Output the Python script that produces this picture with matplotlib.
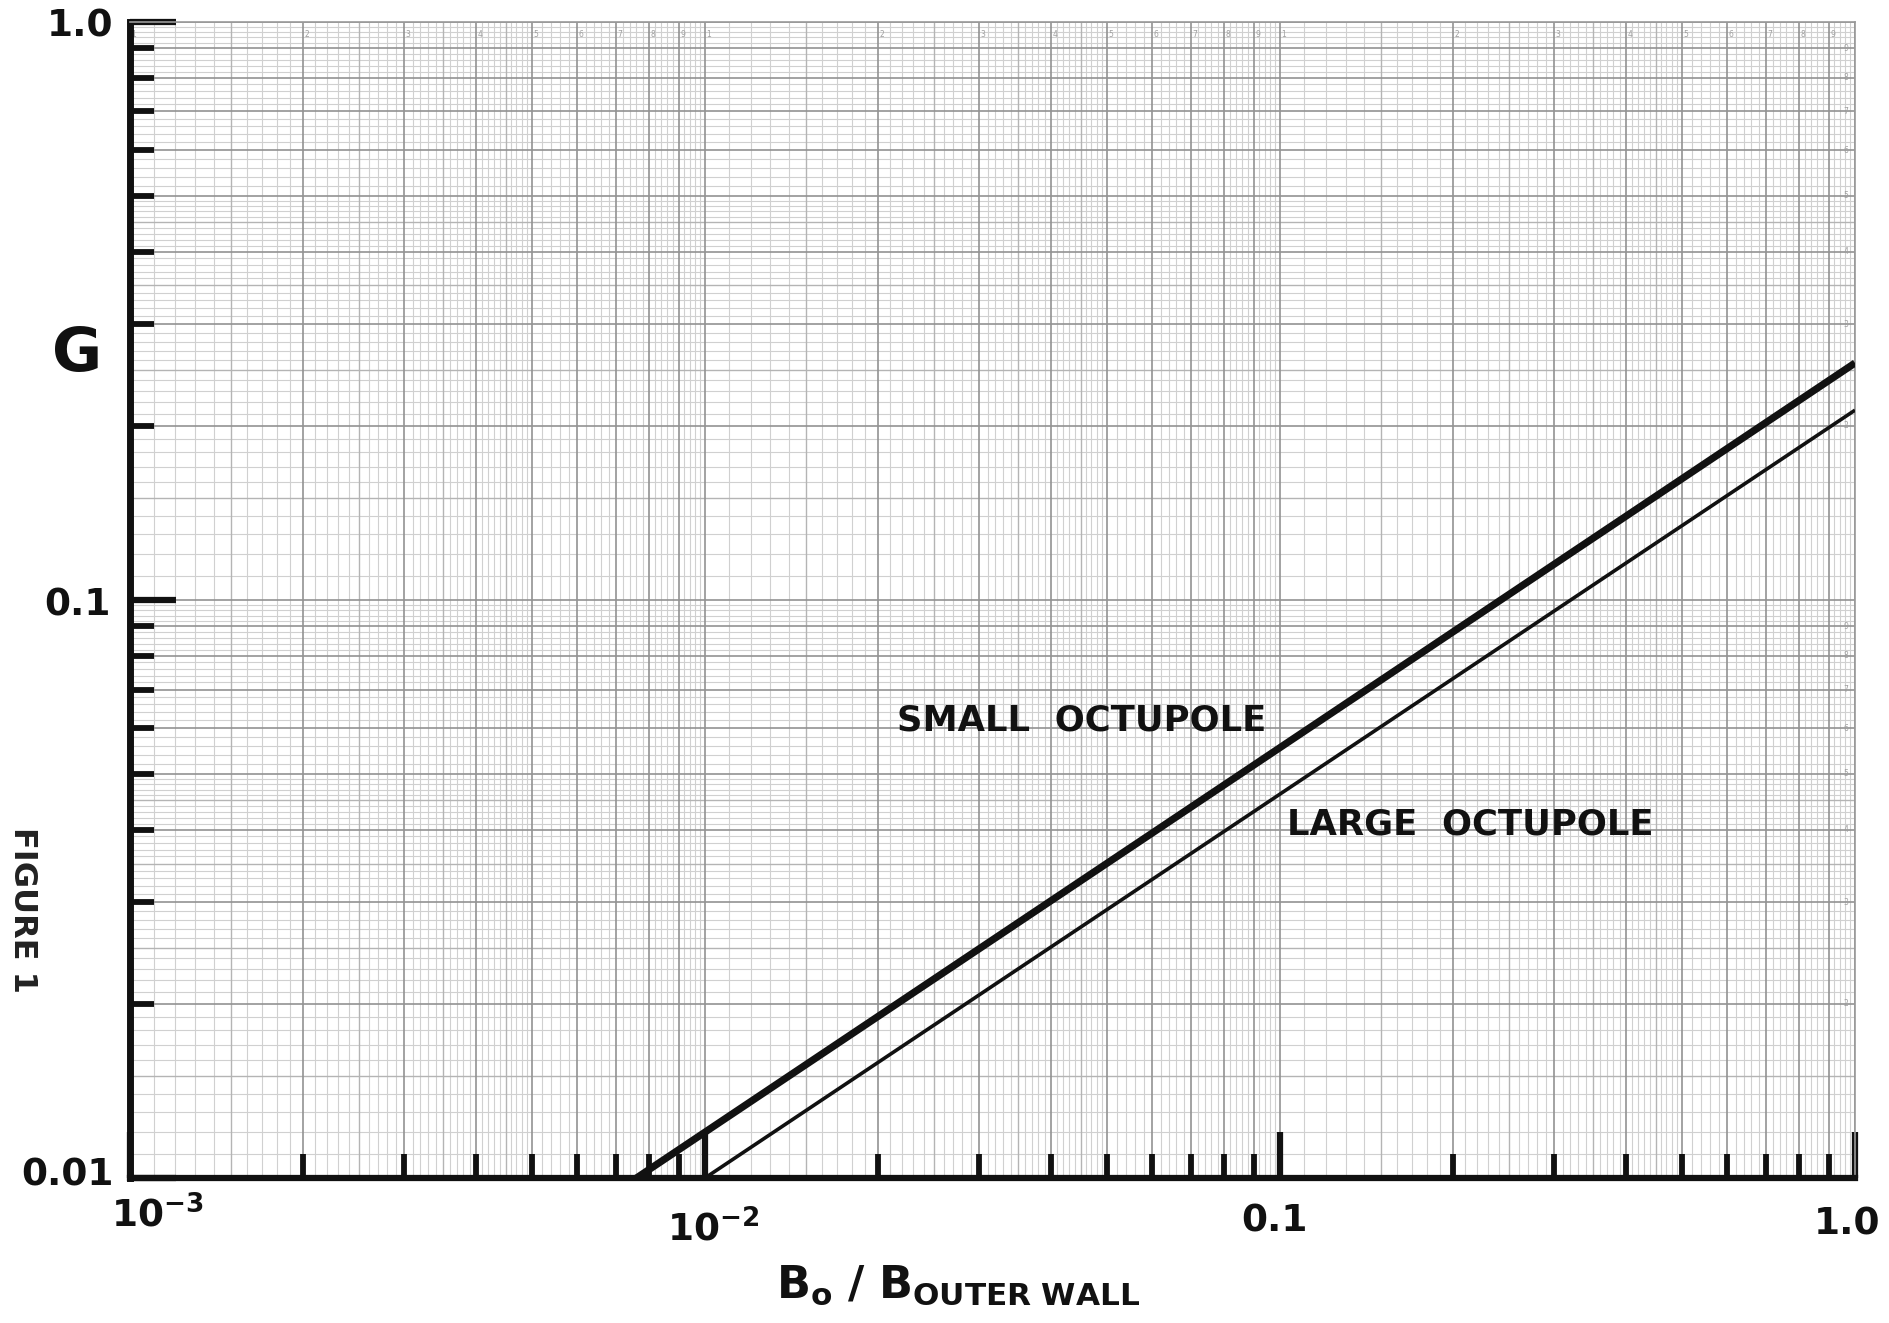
import numpy as np
import matplotlib.pyplot as plt

# curve end points (straight lines on log-log paper)
b_small = [0.0076, 1.0]
g_small = [0.01, 0.257]
b_large = [0.01, 1.0]
g_large = [0.01, 0.213]

x_ticks = [1e-3, 1e-2, 1e-1, 1.0]
x_tick_labels = [r'$\mathbf{10^{-3}}$', r'$\mathbf{10^{-2}}$', '0.1', '1.0']
y_ticks = [0.01, 0.1, 1.0]
y_tick_labels = ['0.01', '0.1', '1.0']

label_small = 'SMALL  OCTUPOLE'
label_large = 'LARGE  OCTUPOLE'


def paper_lines(lo, hi):
    """Rulings of printed log paper between decades 10**lo and 10**hi."""
    major, mid, fine = [], [], []
    for e in range(lo, hi):
        base = 10.0 ** e
        major += [m * base for m in range(1, 10)]
        mid += [m * base for m in (1.5, 2.5, 3.5, 4.5)]
        fine += [k / 10 * base for k in range(11, 20) if k != 15]
        fine += [k / 10 * base for k in range(21, 50) if k % 5 != 0]
        fine += [k / 10 * base for k in range(52, 100, 2) if k % 10 != 0]
    major.append(10.0 ** hi)
    return major, mid, fine


plt.rcParams['font.family'] = ['DejaVu Sans']
plt.rcParams['mathtext.fontset'] = 'dejavusans'

fig = plt.figure(figsize=(18.89, 13.23), dpi=100)
ax = fig.add_axes([0.0688, 0.1096, 0.9132, 0.8738])
ax.set_xscale('log')
ax.set_yscale('log')
ax.set_xlim(1e-3, 1.0)
ax.set_ylim(0.01, 1.0)

# graph paper
xmaj, xmid, xfine = paper_lines(-3, 0)
ymaj, ymid, yfine = paper_lines(-2, 0)
xt = ax.get_xaxis_transform()
yt = ax.get_yaxis_transform()
ax.vlines(xfine, 0, 1, transform=xt, colors='#d0d0d0', lw=0.8, zorder=0)
ax.hlines(yfine, 0, 1, transform=yt, colors='#d0d0d0', lw=0.8, zorder=0)
ax.vlines(xmid, 0, 1, transform=xt, colors='#b4b4b4', lw=1.0, zorder=0)
ax.hlines(ymid, 0, 1, transform=yt, colors='#b4b4b4', lw=1.0, zorder=0)
ax.vlines(xmaj, 0, 1, transform=xt, colors='#929292', lw=1.2, zorder=0)
ax.hlines(ymaj, 0, 1, transform=yt, colors='#929292', lw=1.2, zorder=0)

# printed paper numbers
for e in range(-3, 0):
    for m in range(1, 10):
        ax.text(m * 10.0 ** e * 1.006, 0.993, str(m), transform=xt, fontsize=5.5,
                color='#a0a0a0', ha='left', va='top', zorder=1)
for e in range(-2, 0):
    for m in range(2, 10):
        ax.text(0.996, m * 10.0 ** e, str(m), transform=yt, fontsize=5.5,
                color='#a0a0a0', ha='right', va='center', zorder=1)

# curves
ax.plot(b_small, g_small, color='#111111', lw=5.2, solid_capstyle='butt', zorder=3)
ax.plot(b_large, g_large, color='#111111', lw=2.6, solid_capstyle='butt', zorder=3)

# hand drawn axes and ticks
for s in ('top', 'right'):
    ax.spines[s].set_color('#999999')
    ax.spines[s].set_linewidth(1.2)
ax.spines['left'].set_linewidth(5)
ax.spines['bottom'].set_linewidth(4.5)
ax.spines['left'].set_color('#111111')
ax.spines['bottom'].set_color('#111111')
ax.set_xticks(x_ticks)
ax.set_yticks(y_ticks)
ax.tick_params(which='major', direction='in', length=33, width=4.5, color='#111111',
               labelbottom=False, labelleft=False)
ax.tick_params(which='minor', direction='in', length=17, width=4.2, color='#111111',
               labelbottom=False, labelleft=False)

hand = dict(fontsize=27, fontweight='bold', color='#111111', ha='center', va='center')
x_offsets = [(27, -38), (8, -52), (-5, -44), (-8, -47)]
for x, lab, off in zip(x_ticks, x_tick_labels, x_offsets):
    ax.annotate(lab, xy=(x, 0), xycoords=('data', 'axes fraction'), xytext=off,
                textcoords='offset pixels', annotation_clip=False, **hand)
y_offsets = [(-62, 2), (-52, -6), (-50, -5)]
for y, lab, off in zip(y_ticks, y_tick_labels, y_offsets):
    ax.annotate(lab, xy=(0, y), xycoords=('axes fraction', 'data'), xytext=off,
                textcoords='offset pixels', annotation_clip=False, **hand)

fig.text(77 / 1889, 1 - 355 / 1323, 'G', fontsize=44, fontweight='bold',
         color='#111111', ha='center', va='center')
fig.text(958 / 1889, 1 - 1285 / 1323, r'$\mathbf{B_o\ /\ B_{OUTER\ WALL}}$',
         fontsize=32, color='#111111', ha='center', va='center')
fig.text(22 / 1889, 1 - 910 / 1323, 'FIGURE 1', rotation=-90, fontsize=23,
         fontweight='bold', color='#222222', ha='center', va='center')

ax.text(0.0216, 0.0618, label_small, fontsize=25.5, fontweight='bold',
        color='#111111', ha='left', va='center', zorder=4)
ax.text(0.1028, 0.0409, label_large, fontsize=25.5, fontweight='bold',
        color='#111111', ha='left', va='center', zorder=4)

fig.savefig('out.png', dpi=100, facecolor='white')
